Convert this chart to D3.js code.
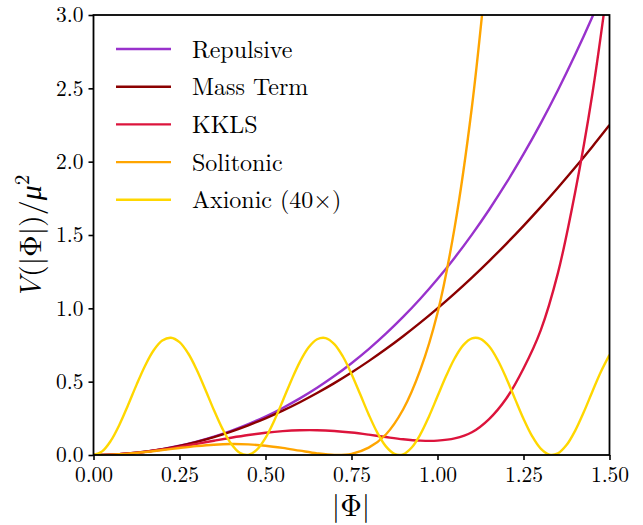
<!DOCTYPE html>
<html>
<head>
<meta charset="utf-8">
<script src="https://cdn.jsdelivr.net/npm/d3@7"></script>
<style>
  html, body { margin: 0; padding: 0; background: #fff; }
  svg { display: block; }
</style>
</head>
<body>
<svg id="chart" width="643" height="525"></svg>
<script>
// ---- data ----
const phiCoarse = [0,0.05,0.1,0.15,0.2,0.25,0.3,0.35,0.4,0.45,0.5,0.55,0.6,0.65,0.7,0.75,0.8,0.85,0.9,0.95,1.0,1.05,1.1,1.15,1.2,1.25,1.3,1.35,1.4,1.45,1.5];

const repulsive = [0,0.0025,0.01,0.0226,0.0403,0.0633,0.0916,0.1255,0.1651,0.2107,0.2625,0.3208,0.3859,0.4582,0.538,0.6258,0.7219,0.8269,0.9412,1.0654,1.2,1.3456,1.5028,1.6723,1.8547,2.0508,2.2612,2.4868,2.7283,2.9866,3.2625];

const massTerm = [0,0.0025,0.01,0.0225,0.04,0.0625,0.09,0.1225,0.16,0.2025,0.25,0.3025,0.36,0.4225,0.49,0.5625,0.64,0.7225,0.81,0.9025,1.0,1.1025,1.21,1.3225,1.44,1.5625,1.69,1.8225,1.96,2.1025,2.25];

const kkls = [0,0.0025,0.0098,0.0216,0.0372,0.0557,0.0761,0.0972,0.1176,0.1362,0.1516,0.1627,0.1687,0.1691,0.1637,0.1532,0.1387,0.1223,0.1073,0.098,0.098,0.113,0.155,0.245,0.385,0.59,0.85,1.24,1.79,2.46,3.3];

const solitonic = [0,0.0025,0.0096,0.0205,0.0339,0.048,0.0607,0.0702,0.0746,0.0725,0.0635,0.0484,0.0294,0.0111,0.0004,0.0076,0.05,0.14,0.31,0.58,0.9677,1.5536,2.3726,3.4858,null,null,null,null,null,null,null];

const phiFine = d3.range(61).map(k => +(k * 0.025).toFixed(3)); // x grid of 0.025 steps
const axionic40 = [0,0.0247,0.0958,0.2046,0.3374,0.478,0.609,0.7141,0.7804,0.7997,0.7696,0.6937,0.5816,0.447,0.3066,0.1778,0.0764,0.015,0.0012,0.0368,0.1172,0.2325,0.3686,0.5086,0.6351,0.7326,0.789,0.7972,0.7564,0.6715,0.5531,0.4157,0.2764,0.1524,0.059,0.0077,0.0049,0.051,0.1402,0.2616,0.4,0.5384,0.6598,0.749,0.7951,0.7923,0.741,0.6476,0.5236,0.3843,0.2469,0.1285,0.0436,0.0028,0.011,0.0674,0.1649,0.2914,0.4314,0.5675,0.6828];

const xTicks = [0,0.25,0.5,0.75,1.0,1.25,1.5];
const yTicks = [0,0.5,1.0,1.5,2.0,2.5,3.0];

const seriesNames = ["Repulsive","Mass Term","KKLS","Solitonic","Axionic (40×)"];
const seriesColors = ["#9932cc","#8b0000","#dc143c","#ffa500","#ffd700"];

// ---- layout ----
const FONT = "'Latin Modern Roman', 'Liberation Serif', serif";
const svg = d3.select("#chart");
const mLeft = 93.5, mRight = 609.5, mTop = 15, mBottom = 455;

const x = d3.scaleLinear().domain([0, 1.5]).range([mLeft, mRight]);
const y = d3.scaleLinear().domain([0, 3]).range([mBottom, mTop]);

svg.append("defs").append("clipPath").attr("id", "clip")
  .append("rect").attr("x", mLeft).attr("y", mTop)
  .attr("width", mRight - mLeft).attr("height", mBottom - mTop);

const series = [
  {xs: phiCoarse, ys: repulsive},
  {xs: phiCoarse, ys: massTerm},
  {xs: phiCoarse, ys: kkls},
  {xs: phiCoarse, ys: solitonic},
  {xs: phiFine, ys: axionic40}
];

const line = d3.line()
  .defined(d => d[1] != null)
  .x(d => x(d[0])).y(d => y(d[1]))
  .curve(d3.curveCatmullRom.alpha(0.5));

const g = svg.append("g").attr("clip-path", "url(#clip)");
series.forEach((s, i) => {
  const pts = s.xs.map((v, j) => [v, s.ys[j]]);
  g.append("path").datum(pts)
    .attr("d", line)
    .attr("fill", "none")
    .attr("stroke", seriesColors[i])
    .attr("stroke-width", 2.4)
    .attr("stroke-linejoin", "round");
});

// ---- axes ----
const xAxis = d3.axisBottom(x).tickValues(xTicks).tickFormat(d3.format(".2f"))
  .tickSize(5).tickPadding(7);
const yAxis = d3.axisLeft(y).tickValues(yTicks).tickFormat(d3.format(".1f"))
  .tickSize(5).tickPadding(5);

const gx = svg.append("g").attr("transform", `translate(0,${mBottom})`).call(xAxis);
const gy = svg.append("g").attr("transform", `translate(${mLeft},0)`).call(yAxis);
[gx, gy].forEach(ax => {
  ax.select(".domain").remove();
  ax.selectAll(".tick line").attr("stroke", "#000").attr("stroke-width", 1.6);
  ax.selectAll(".tick text")
    .style("font-family", FONT).style("font-size", "21.5px").style("fill", "#000");
});

// frame
svg.append("rect").attr("x", mLeft).attr("y", mTop)
  .attr("width", mRight - mLeft).attr("height", mBottom - mTop)
  .attr("fill", "none").attr("stroke", "#000").attr("stroke-width", 1.8);

// axis labels
svg.append("text")
  .attr("x", 351).attr("y", 516)
  .attr("text-anchor", "middle")
  .style("font-family", FONT).style("font-size", "30px").style("fill", "#000")
  .text("|Φ|");

const yl = svg.append("text")
  .attr("transform", `translate(41,237) rotate(-90)`)
  .attr("text-anchor", "middle")
  .style("font-family", FONT).style("font-size", "30px").style("fill", "#000");
yl.append("tspan").style("font-style", "italic").text("V");
yl.append("tspan").text("(|Φ|)/");
yl.append("tspan").style("font-style", "italic").text("μ");
yl.append("tspan").style("font-size", "21px").attr("dy", -12).text("2");

// legend
const lg = svg.append("g");
seriesNames.forEach((name, i) => {
  const yy = 49 + i * 37.7;
  lg.append("line").attr("x1", 116).attr("x2", 171).attr("y1", yy).attr("y2", yy)
    .attr("stroke", seriesColors[i]).attr("stroke-width", 2.4);
  lg.append("text").attr("x", 192).attr("y", yy + 8.5)
    .style("font-family", FONT).style("font-size", "24px").style("fill", "#000")
    .text(name);
});
</script>
</body>
</html>
